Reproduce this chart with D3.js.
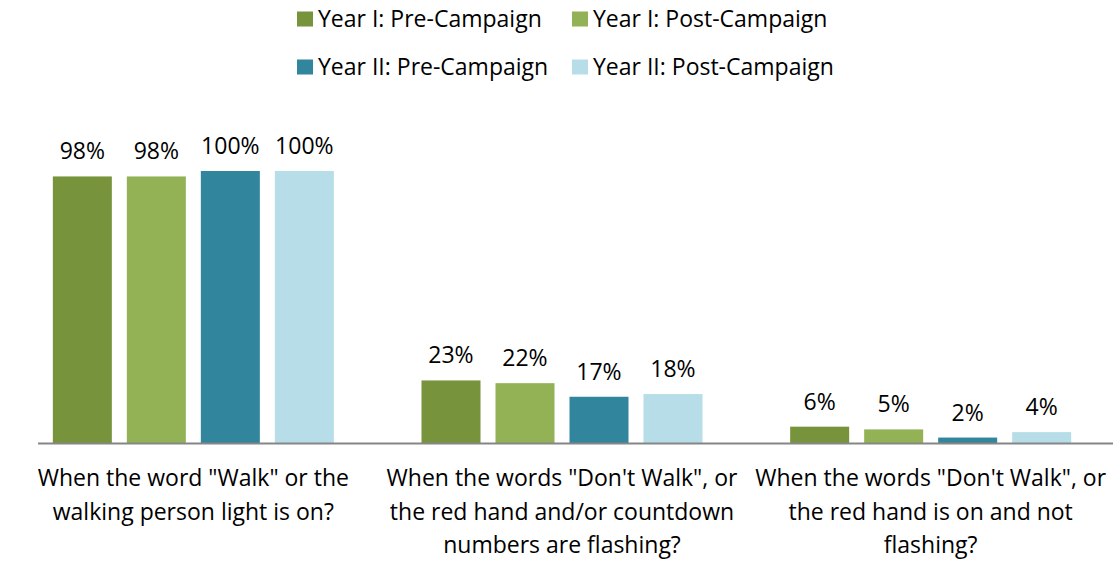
<!DOCTYPE html>
<html lang="en">
  <head>
    <meta charset="utf-8">
    <title>Pedestrian signal survey</title>
    <style>
      html, body {
        margin: 0;
        background: #fff;
      }
      svg text {
        font-family: "Open Sans", sans-serif;
        fill: #000;
      }
    </style>
    <script src="https://d3js.org/d3.v7.min.js"></script>
  </head>
  <body>
    <svg id="chart" width="1119" height="575"></svg>
  </body>
  <script>
  const categories = [
    ['When the word "Walk" or the', 'walking person light is on?'],
    ['When the words "Don\'t Walk", or', 'the red hand and/or countdown', 'numbers are flashing?'],
    ['When the words "Don\'t Walk", or', 'the red hand is on and not', 'flashing?']
  ];
  const seriesNames = ['Year I: Pre-Campaign', 'Year I: Post-Campaign', 'Year II: Pre-Campaign', 'Year II: Post-Campaign'];
  const seriesColors = ['#77933C', '#93B255', '#31859C', '#B7DEE8'];
  const values = [
    [98, 98, 100, 100],
    [23, 22, 17, 18],
    [6, 5, 2, 4]
  ];

  const svg = d3.select('#chart');
  const baseY = 443;
  const fontSize = '23px';

  const x0 = d3.scaleBand()
    .domain(d3.range(categories.length))
    .range([9, 1115])
    .paddingInner(0)
    .paddingOuter(0);

  // four bars, 59px wide on a 74px step, centred in each group
  const x1 = d3.scaleBand()
    .domain(d3.range(seriesNames.length))
    .range([x0.bandwidth() / 2 - 140.5, x0.bandwidth() / 2 + 140.5])
    .paddingInner(15 / 74)
    .paddingOuter(0);

  const y = d3.scaleLinear()
    .domain([0, 100])
    .range([baseY, 171]);

  const groups = svg.append('g')
    .selectAll('g')
    .data(values)
    .join('g')
    .attr('transform', (d, i) => `translate(${x0(i)},0)`);

  groups.selectAll('rect')
    .data(d => d)
    .join('rect')
    .attr('x', (d, j) => x1(j))
    .attr('y', d => y(d))
    .attr('width', x1.bandwidth())
    .attr('height', d => baseY - y(d))
    .attr('fill', (d, j) => seriesColors[j]);

  groups.selectAll('text.val')
    .data(d => d)
    .join('text')
    .attr('class', 'val')
    .attr('x', (d, j) => x1(j) + x1.bandwidth() / 2)
    .attr('y', d => y(d) - 17)
    .attr('text-anchor', 'middle')
    .style('font-size', fontSize)
    .text(d => d + '%');

  // baseline
  svg.append('line')
    .attr('x1', 38).attr('x2', 1113)
    .attr('y1', baseY + 0.5).attr('y2', baseY + 0.5)
    .attr('stroke', '#868686')
    .attr('stroke-width', 2);

  // category labels
  categories.forEach((lines, i) => {
    const t = svg.append('text')
      .attr('text-anchor', 'middle')
      .style('font-size', fontSize);
    lines.forEach((line, k) => {
      t.append('tspan')
        .attr('x', x0(i) + x0.bandwidth() / 2)
        .attr('y', 486 + k * 33.5)
        .text(line);
    });
  });

  // legend
  const legendPos = [[297, 19], [572, 19], [297, 67], [572, 67]];
  const legend = svg.append('g')
    .selectAll('g')
    .data(seriesNames)
    .join('g')
    .attr('transform', (d, i) => `translate(${legendPos[i][0]},${legendPos[i][1]})`);

  legend.append('rect')
    .attr('x', 0).attr('y', -7.5)
    .attr('width', 16).attr('height', 15)
    .attr('fill', (d, i) => seriesColors[i]);

  legend.append('text')
    .attr('x', 21)
    .attr('y', 8)
    .style('font-size', fontSize)
    .text(d => d);
  </script>
</html>
